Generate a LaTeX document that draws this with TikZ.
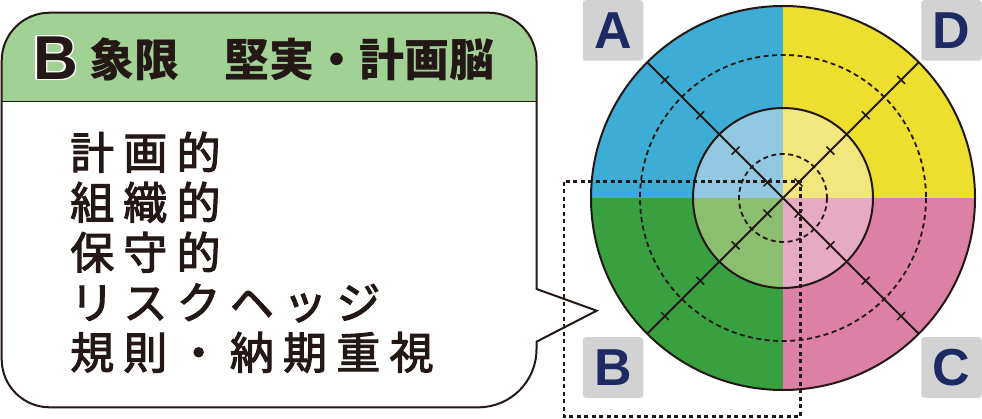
\documentclass[tikz,border=0pt]{standalone}
\usepackage{fontspec}
\usepackage{contour}
\newfontfamily\jpfont{Noto Sans CJK JP}
\newfontfamily\jpbody[LetterSpace=21, FakeBold=2.5]{Noto Sans CJK JP}
\newfontfamily\latinfont{Liberation Sans}

\definecolor{ink}{HTML}{231815}
\definecolor{headgreen}{HTML}{A2D196}
\definecolor{qblue}{HTML}{3DADD5}
\definecolor{qbluelt}{HTML}{92C8E2}
\definecolor{qyellow}{HTML}{ECDF2D}
\definecolor{qyellowlt}{HTML}{F2E77C}
\definecolor{qgreen}{HTML}{38A03E}
\definecolor{qgreenlt}{HTML}{8BBE6E}
\definecolor{qpink}{HTML}{DC80A6}
\definecolor{qpinklt}{HTML}{E7AAC3}
\definecolor{boxgray}{HTML}{D2D2D2}
\definecolor{navy}{HTML}{1E2A64}

\contourlength{1.4pt}

\newcommand{\bubblepath}{(1.7,230) [rounded corners=48pt] -- (1.7,12.7) -- (536.5,12.7) [sharp corners] -- (536.5,289) -- (596.7,310.7) -- (536.5,341.7) [rounded corners=58pt] -- (536.5,407.3) [rounded corners=48pt] -- (1.7,407.3) -- cycle}

\tikzset{
  bubble/.style={draw=ink, line width=2pt},
  ring/.style={draw=ink, line width=2pt},
  dashring/.style={draw=ink, line width=1.8pt, dash pattern=on 5pt off 3.5pt},
  tickmark/.style={draw=ink, line width=1.5pt},
  frame/.style={draw=ink, line width=2.5pt, dash pattern=on 4pt off 3.5pt},
  qbox/.style={fill=boxgray, rounded corners=3pt, minimum size=60.5pt, inner sep=0pt,
    text=navy, font=\latinfont\bfseries\fontsize{52pt}{52pt}\selectfont},
  body/.style={inner sep=0pt, text=ink, font=\jpbody\fontsize{44pt}{50pt}\selectfont},
}

\begin{document}
\begin{tikzpicture}[x=1pt, y=-1pt]
  \useasboundingbox (0,0) rectangle (982,419);

  % speech bubble
  \fill[white] \bubblepath;
  \begin{scope}
    \clip \bubblepath;
    \fill[headgreen] (0,0) rectangle (540,101.7);
  \end{scope}
  \draw[ink, line width=1.5pt] (1.7,101.7) -- (536.5,101.7);
  \draw[bubble] \bubblepath;

  \node[anchor=base west, inner sep=0pt, text=ink, font=\latinfont\bfseries\fontsize{62pt}{62pt}\selectfont] (qletter) at (33,79.5) {\contour{white}{B}};
  \node[anchor=base west, inner sep=0pt, text=ink, font=\jpfont\bfseries\fontsize{45pt}{45pt}\selectfont] (qtitle) at (89.7,77) {象限　堅実・計画脳};

  \foreach \txt [count=\i] in {計画的,組織的,保守的,リスクヘッジ,規則・納期重視}
    \node[body, anchor=base west] (line\i) at (70,119+50*\i) {\txt};

  % the circle
  \coordinate (ctr) at (783,198);
  \begin{scope}
    \clip (ctr) circle (192);
    \fill[qblue] (ctr) rectangle ++(-200,-200);
    \fill[qyellow] (ctr) rectangle ++(200,-200);
    \fill[qgreen] (ctr) rectangle ++(-200,200);
    \fill[qpink] (ctr) rectangle ++(200,200);
    \clip (ctr) circle (90);
    \fill[qbluelt] (ctr) rectangle ++(-100,-100);
    \fill[qyellowlt] (ctr) rectangle ++(100,-100);
    \fill[qgreenlt] (ctr) rectangle ++(-100,100);
    \fill[qpinklt] (ctr) rectangle ++(100,100);
  \end{scope}
  \draw[dashring] (ctr) circle (143);
  \draw[dashring] (ctr) circle (44);
  \draw[ring] (ctr) circle (90);
  \draw[ring] (ctr) circle (192);

  % with y pointing down, 45 is up-right and -45 is down-right
  \path (ctr) ++(135:192) coordinate (nw) (ctr) ++(45:192) coordinate (ne)
        (ctr) ++(-45:192) coordinate (se) (ctr) ++(-135:192) coordinate (sw);
  \draw[ring] (nw) -- (se);
  \draw[ring] (ne) -- (sw);
  \foreach \a in {45,135,225,315}
    \foreach \r in {22,67,117,167}
      \draw[tickmark] (ctr) ++(\a:\r) ++(\a+90:5.5) -- ++(\a-90:11);

  % dotted frame
  \draw[frame] (564,181.7) rectangle (800.7,416.7);

  % quadrant labels
  \node[qbox] (qa) at (613,30.5) {A};
  \node[qbox] (qd) at (951.5,30.5) {D};
  \node[qbox] (qb) at (613,367.5) {B};
  \node[qbox] (qc) at (951.5,367.5) {C};
\end{tikzpicture}
\end{document}
